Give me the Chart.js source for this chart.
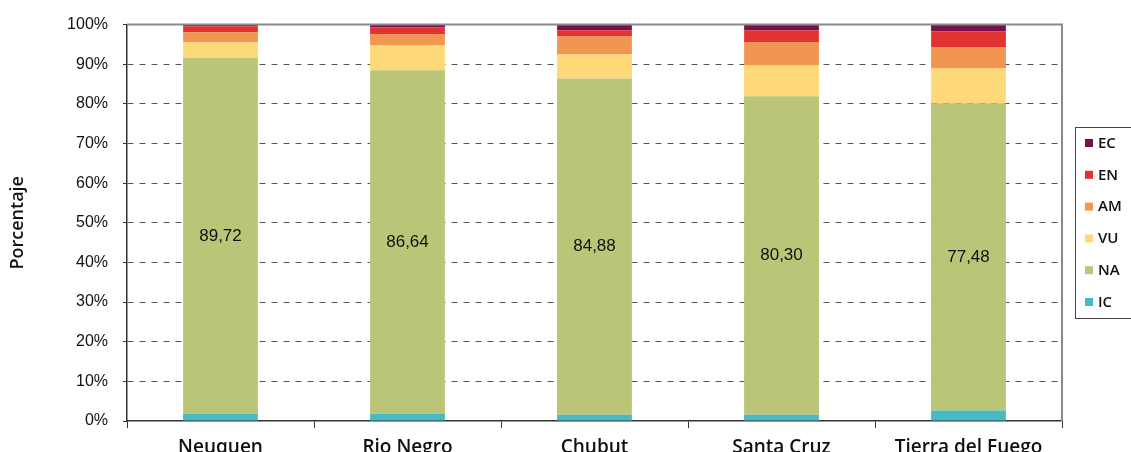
<!DOCTYPE html>
<html>
<head>
<meta charset="utf-8">
<script src="https://cdn.jsdelivr.net/npm/chart.js@4"></script>
<style>
  html, body { margin: 0; padding: 0; background: #fff; }
  #wrap { width: 1131px; height: 452px; }
</style>
</head>
<body>
<div id="wrap"><canvas id="barChart" width="1131" height="452"></canvas></div>
<script>
// Categorías de amenaza por provincia (porcentaje de especies)
var provincias = ['Neuquen', 'Rio Negro', 'Chubut', 'Santa Cruz', 'Tierra del Fuego'];
var IC = [1.85, 1.85, 1.55, 1.60, 2.67];
var NA = [89.72, 86.64, 84.88, 80.30, 77.48];
var VU = [4.00, 6.23, 6.03, 7.80, 8.79];
var AM = [2.50, 2.77, 4.52, 5.78, 5.28];
var EN = [1.50, 1.76, 1.59, 3.01, 4.02];
var EC = [0.43, 0.75, 1.43, 1.51, 1.76];
var yTicks = [0, 10, 20, 30, 40, 50, 60, 70, 80, 90, 100];

var COLORS = {
  IC: '#48bac4', NA: '#bbc577', VU: '#fed977',
  AM: '#f19651', EN: '#e33331', EC: '#7a0f4a'
};
var SANS = '"Open Sans", Lato, sans-serif';

function ds(label, data) {
  return {
    label: label,
    data: data,
    backgroundColor: COLORS[label],
    borderWidth: 0,
    categoryPercentage: 1,
    barPercentage: 0.4
  };
}

// valores de NA dentro de la barra + recuadro superior/derecho + leyenda
var extras = {
  id: 'extras',
  afterDatasetsDraw: function (chart) {
    var ctx = chart.ctx;
    var meta = chart.getDatasetMeta(1);
    ctx.save();
    ctx.fillStyle = '#111';
    ctx.font = '17px "Liberation Sans", Arial, sans-serif';
    ctx.textAlign = 'center';
    ctx.textBaseline = 'middle';
    meta.data.forEach(function (bar, i) {
      var mid = (bar.y + bar.base) / 2;
      ctx.fillText(NA[i].toFixed(2).replace('.', ','), bar.x, mid);
    });
    ctx.restore();
  },
  afterDraw: function (chart) {
    var ctx = chart.ctx;
    var a = chart.chartArea;
    ctx.save();
    ctx.strokeStyle = '#8a8a8a';
    ctx.lineWidth = 2;
    ctx.beginPath();
    ctx.moveTo(a.left, a.top);
    ctx.lineTo(a.right, a.top);
    ctx.lineTo(a.right, a.bottom);
    ctx.stroke();

    // leyenda en recuadro, orden inverso (EC arriba)
    var bx = 1075, by = 127, bw = 60, bh = 191;
    ctx.strokeStyle = '#444';
    ctx.lineWidth = 1;
    ctx.strokeRect(bx + 0.5, by + 0.5, bw, bh);
    var items = chart.data.datasets.slice().reverse();
    ctx.font = '600 15px ' + SANS;
    ctx.textBaseline = 'middle';
    ctx.textAlign = 'left';
    items.forEach(function (d, k) {
      var cy = 143 + k * 31.8;
      ctx.fillStyle = d.backgroundColor;
      ctx.fillRect(1085, cy - 4, 8, 8);
      ctx.fillStyle = '#111';
      ctx.fillText(d.label, 1098, cy + 0.5);
    });
    ctx.restore();
  }
};

new Chart(document.getElementById('barChart').getContext('2d'), {
  type: 'bar',
  data: {
    labels: provincias,
    datasets: [ds('IC', IC), ds('NA', NA), ds('VU', VU), ds('AM', AM), ds('EN', EN), ds('EC', EC)]
  },
  options: {
    responsive: false,
    animation: false,
    events: [],
    layout: { padding: { top: 23, right: 69, left: 0, bottom: 0 } },
    plugins: { legend: { display: false }, tooltip: { enabled: false } },
    scales: {
      x: {
        stacked: true,
        offset: true,
        grid: { offset: true, drawOnChartArea: false, drawTicks: true, tickLength: 7, color: '#333', tickColor: '#333' },
        border: { display: true, color: '#333', width: 1.5 },
        ticks: {
          color: '#111',
          padding: 8,
          font: { family: SANS, size: 19, weight: '600' }
        },
        afterFit: function (s) { s.height = 31; }
      },
      y: {
        stacked: true,
        min: 0,
        max: 100,
        afterBuildTicks: function (s) { s.ticks = yTicks.map(function (v) { return { value: v }; }); },
        grid: {
          color: function (c) { return (c.tick && (c.tick.value === 0 || c.tick.value === 100)) ? 'rgba(0,0,0,0)' : '#555'; },
          tickColor: '#333',
          tickLength: 4,
          tickBorderDash: [],
          lineWidth: 1
        },
        border: { display: true, color: '#333', width: 1.5, dash: [6, 6] },
        ticks: {
          color: '#111',
          padding: 15,
          font: { family: '"Liberation Sans", Arial, sans-serif', size: 16 },
          callback: function (v) { return v + '%'; }
        },
        title: {
          display: true,
          text: 'Porcentaje',
          color: '#111',
          padding: { top: 7, bottom: 0 },
          font: { family: SANS, size: 18, weight: '600' }
        },
        afterFit: function (s) { s.width = 127; }
      }
    }
  },
  plugins: [extras]
});
</script>
</body>
</html>
